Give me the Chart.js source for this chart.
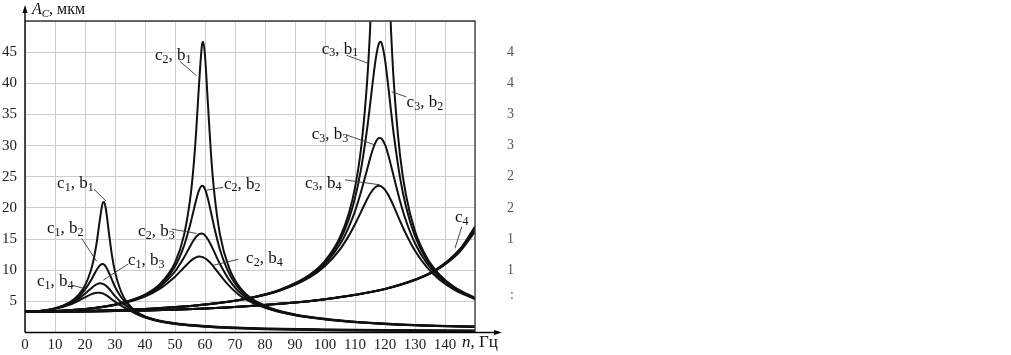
<!DOCTYPE html>
<html>
<head>
<meta charset="utf-8">
<script src="https://cdn.jsdelivr.net/npm/chart.js@4.4.1/dist/chart.umd.min.js"></script>
<style>
    html, body { margin: 0; padding: 0; background: #fff; }
    #wrap { width: 1011px; height: 355px; }
</style>
</head>
<body>
<div id="wrap"><canvas id="resonanceChart" width="1011" height="355"></canvas></div>
<script>
// frequency grids (Hz) for each stiffness family
const freqC1 = [0, 5, 10, 15, 18, 20, 22, 23, 24, 25, 26, 26.4, 27, 28, 29, 30, 32, 34, 37, 40, 45, 50, 60, 70, 80, 100, 120, 150];
const freqC2 = [0, 10, 20, 30, 40, 45, 50, 53, 55, 56, 57, 58, 59, 59.4, 60, 61, 62, 63, 65, 68, 72, 80, 90, 100, 112, 125, 137, 150];
const freqC3 = [0, 20, 40, 60, 75, 85, 95, 100, 105, 108, 110, 112, 114, 115, 116, 117, 118, 118.6, 119, 120, 121, 122, 123, 125, 127, 130, 134, 138, 143, 150];
const freqC4 = [0, 20, 40, 60, 75, 90, 100, 110, 120, 130, 137, 145, 150];

// amplitude A_C (mkm)
const c1b1 = [3.34, 3.46, 3.89, 4.89, 6.12, 7.54, 10.02, 12.0, 14.76, 18.25, 20.87, 20.93, 19.7, 15.88, 12.33, 9.73, 6.58, 4.84, 3.37, 2.6, 1.9, 1.5, 1.05, 0.8, 0.65, 0.5, 0.4, 0.32];
const c1b2 = [3.34, 3.46, 3.86, 4.78, 5.81, 6.88, 8.38, 9.27, 10.15, 10.81, 10.98, 10.86, 10.51, 9.57, 8.44, 7.34, 5.7, 4.6, 3.35, 2.55, 1.85, 1.45, 1.0, 0.76, 0.6, 0.45, 0.35, 0.27];
const c1b3 = [3.34, 3.45, 3.83, 4.64, 5.47, 6.21, 7.06, 7.46, 7.76, 7.9, 7.81, 7.7, 7.5, 7.02, 6.44, 5.84, 4.9, 4.2, 3.2, 2.5, 1.8, 1.4, 0.96, 0.72, 0.56, 0.41, 0.31, 0.23];
const c1b4 = [3.34, 3.45, 3.79, 4.49, 5.14, 5.65, 6.13, 6.3, 6.39, 6.38, 6.25, 6.17, 6.0, 5.68, 5.3, 4.95, 4.3, 3.8, 3.0, 2.4, 1.75, 1.35, 0.92, 0.68, 0.52, 0.37, 0.27, 0.19];

const c2b1 = [3.34, 3.44, 3.77, 4.48, 6.09, 7.78, 11.22, 15.63, 21.23, 25.67, 31.87, 39.75, 46.15, 46.65, 44.46, 36.47, 28.64, 22.85, 15.72, 10.4, 7.0, 4.3, 2.9, 2.2, 1.65, 1.3, 1.1, 0.95];
const c2b2 = [3.34, 3.44, 3.76, 4.46, 6.02, 7.6, 10.6, 13.91, 17.21, 19.17, 21.17, 22.8, 23.54, 23.49, 23.02, 21.42, 19.27, 17.06, 13.29, 9.53, 6.68, 4.2, 2.85, 2.17, 1.63, 1.28, 1.08, 0.93];
const c2b3 = [3.34, 3.44, 3.76, 4.44, 5.92, 7.34, 9.79, 12.03, 13.8, 14.64, 15.35, 15.8, 15.89, 15.82, 15.59, 14.93, 14.04, 13.02, 10.99, 8.49, 6.25, 4.1, 2.8, 2.14, 1.61, 1.26, 1.06, 0.92];
const c2b4 = [3.34, 3.43, 3.75, 4.41, 5.78, 7.04, 8.96, 10.43, 11.39, 11.78, 12.06, 12.19, 12.14, 12.06, 11.92, 11.55, 11.05, 10.47, 9.24, 7.53, 5.79, 3.95, 2.75, 2.1, 1.59, 1.24, 1.05, 0.9];

const c3b1 = [3.34, 3.44, 3.77, 4.49, 5.56, 6.86, 9.29, 11.49, 15.29, 19.21, 23.26, 29.48, 40.03, 48.38, 60.11, 75.62, 90.71, 93.8, 91.86, 77.46, 61.06, 48.57, 39.7, 28.52, 22.03, 16.28, 11.95, 9.38, 7.33, 5.56];
const c3b2 = [3.34, 3.44, 3.77, 4.48, 5.55, 6.83, 9.2, 11.31, 14.82, 18.27, 21.58, 26.18, 32.55, 36.45, 40.56, 44.21, 46.42, 46.65, 46.28, 43.81, 39.89, 35.58, 31.51, 24.89, 20.18, 15.45, 11.59, 9.19, 7.23, 5.51];
const c3b3 = [3.34, 3.44, 3.77, 4.48, 5.53, 6.78, 9.06, 11.03, 14.15, 16.99, 19.48, 22.56, 26.1, 27.88, 29.49, 30.67, 31.23, 31.2, 31.04, 30.14, 28.65, 26.82, 24.87, 21.11, 17.94, 14.32, 11.07, 8.9, 7.08, 5.43];
const c3b4 = [3.34, 3.44, 3.76, 4.47, 5.5, 6.72, 8.88, 10.67, 13.35, 15.59, 17.38, 19.36, 21.35, 22.22, 22.92, 23.39, 23.55, 23.5, 23.37, 22.91, 22.16, 21.22, 20.16, 17.92, 15.8, 13.11, 10.44, 8.55, 6.89, 5.34];

const c4b1 = [3.34, 3.39, 3.55, 3.85, 4.25, 4.8, 5.35, 6.05, 7.0, 8.5, 10.1, 13.4, 17.0];
const c4b2 = [3.34, 3.39, 3.55, 3.85, 4.25, 4.8, 5.35, 6.05, 7.0, 8.48, 10.05, 13.3, 16.8];
const c4b3 = [3.34, 3.39, 3.55, 3.85, 4.25, 4.8, 5.35, 6.04, 6.98, 8.45, 10.0, 13.2, 16.5];
const c4b4 = [3.34, 3.39, 3.55, 3.85, 4.25, 4.8, 5.34, 6.03, 6.96, 8.42, 9.95, 13.0, 16.2];

// curve labels: family index, damping index, text anchor (Hz, mkm), leader line (Hz, mkm -> Hz, mkm)
const noteFamily  = ['1', '1', '1', '1', '2', '2', '2', '2', '3', '3', '3', '3', '4'];
const noteDamping = ['1', '2', '3', '4', '1', '2', '3', '4', '1', '2', '3', '4', ''];
const noteAt = [
    [10.7, 23.9], [7.3, 16.7], [34.3, 11.5], [4.0, 8.15],
    [43.3, 44.4], [66.3, 23.8], [37.7, 16.2], [73.7, 11.9],
    [98.9, 45.5], [127.2, 36.9], [95.6, 31.7], [93.3, 23.95],
    [143.3, 18.4]
];
const noteLeader = [
    [23, 23.0, 27, 21.1], [18.9, 15.1, 23.9, 11.4], [34.4, 11.0, 26.1, 8.4], [15.6, 7.6, 19.4, 7.1],
    [51.7, 43.5, 57.2, 41.2], [66.1, 23.3, 60, 22.8], [48.9, 16.6, 57.2, 15.9], [71.1, 11.75, 62.8, 10.8],
    [107.2, 44.5, 114.4, 43.2], [127.2, 37.8, 122.2, 38.65], [107.2, 31.7, 116.7, 30.1], [106.7, 24.5, 118.3, 23.7],
    [145.6, 17.0, 143.3, 13.5]
];

// cropped tick digits of the neighbouring figure
const ghostDigits = ['4', '4', '3', '3', '2', '2', '1', '1'];
const ghostValues = [45, 40, 35, 30, 25, 20, 15, 10];

const curves = [
    [freqC1, c1b1], [freqC1, c1b2], [freqC1, c1b3], [freqC1, c1b4],
    [freqC2, c2b1], [freqC2, c2b2], [freqC2, c2b3], [freqC2, c2b4],
    [freqC3, c3b1], [freqC3, c3b2], [freqC3, c3b3], [freqC3, c3b4],
    [freqC4, c4b1], [freqC4, c4b2], [freqC4, c4b3], [freqC4, c4b4]
];

const SERIF = '"Liberation Serif", "DejaVu Serif", serif';

function drawRich(ctx, parts, x, y, size) {
    parts.forEach(part => {
        const px = part.sub ? Math.round(size * 0.7) : size;
        ctx.font = `${part.italic ? 'italic ' : ''}${px}px ${SERIF}`;
        ctx.fillText(part.t, x, y + (part.sub ? 4 : 0));
        x += ctx.measureText(part.t).width;
    });
}

const decorations = {
    id: "decorations",
    afterDatasetsDraw(chart) {
        const { ctx, chartArea: area, scales: { x, y } } = chart;
        ctx.save();

        // frame top and right
        ctx.strokeStyle = "#3a3a3a";
        ctx.lineWidth = 1.3;
        ctx.beginPath();
        ctx.moveTo(area.left, area.top);
        ctx.lineTo(area.right, area.top);
        ctx.lineTo(area.right, area.bottom);
        ctx.stroke();

        // axes with arrows
        ctx.strokeStyle = "#000";
        ctx.lineWidth = 1.4;
        ctx.beginPath();
        ctx.moveTo(area.left, area.bottom);
        ctx.lineTo(area.left, 10);
        ctx.moveTo(area.left, area.bottom);
        ctx.lineTo(496, area.bottom);
        ctx.stroke();
        ctx.fillStyle = "#000";
        ctx.beginPath();
        ctx.moveTo(area.left, 5);
        ctx.lineTo(area.left - 2.5, 13);
        ctx.lineTo(area.left + 2.5, 13);
        ctx.fill();
        ctx.beginPath();
        ctx.moveTo(502, area.bottom);
        ctx.lineTo(494, area.bottom - 2.5);
        ctx.lineTo(494, area.bottom + 2.5);
        ctx.fill();

        // axis titles
        ctx.fillStyle = "#111";
        ctx.textBaseline = "middle";
        ctx.textAlign = "left";
        drawRich(ctx, [{ t: "A", italic: true }, { t: "C", italic: true, sub: true }, { t: ", мкм" }], area.left + 7, 10, 16);
        drawRich(ctx, [{ t: "n", italic: true }, { t: ", Гц" }], 462, 343, 17);

        // curve labels
        noteAt.forEach((pos, i) => {
            const parts = [{ t: "c" }, { t: noteFamily[i], sub: true }];
            if (noteDamping[i]) {
                parts.push({ t: ", b" }, { t: noteDamping[i], sub: true });
            }
            ctx.fillStyle = "#111";
            drawRich(ctx, parts, x.getPixelForValue(pos[0]), y.getPixelForValue(pos[1]), 17);

            const l = noteLeader[i];
            ctx.strokeStyle = "#333";
            ctx.lineWidth = 0.9;
            ctx.beginPath();
            ctx.moveTo(x.getPixelForValue(l[0]), y.getPixelForValue(l[1]));
            ctx.lineTo(x.getPixelForValue(l[2]), y.getPixelForValue(l[3]));
            ctx.stroke();
        });

        // cropped neighbour figure remnants
        ctx.fillStyle = "#555";
        ctx.font = `14px ${SERIF}`;
        ghostDigits.forEach((d, i) => {
            ctx.fillText(d, 507, y.getPixelForValue(ghostValues[i]));
        });
        ctx.fillText(":", 510, y.getPixelForValue(5) - 6);

        ctx.restore();
    }
};

new Chart(document.getElementById("resonanceChart"), {
    type: "line",
    data: {
        datasets: curves.map(([xs, ys]) => ({
            data: xs.map((v, i) => ({ x: v, y: ys[i] })),
            borderColor: "#111",
            borderWidth: 2,
            pointRadius: 0,
            fill: false,
            cubicInterpolationMode: "monotone"
        }))
    },
    options: {
        responsive: false,
        animation: false,
        events: [],
        layout: {
            padding: { top: 21, right: 536, left: 0, bottom: 0 }
        },
        plugins: {
            legend: { display: false },
            tooltip: { enabled: false }
        },
        scales: {
            x: {
                type: "linear",
                min: 0,
                max: 150,
                afterFit: scale => { scale.height = 22.5; },
                border: { display: false },
                grid: { color: "#cdcdcd", lineWidth: 1, drawTicks: false },
                ticks: {
                    stepSize: 10,
                    padding: 4,
                    maxRotation: 0,
                    autoSkip: false,
                    color: "#222",
                    font: { family: SERIF, size: 15 },
                    callback: v => v === 150 ? "" : v
                }
            },
            y: {
                min: 0,
                max: 50,
                afterFit: scale => { scale.width = 25; },
                border: { display: false },
                grid: { color: "#cdcdcd", lineWidth: 1, drawTicks: false },
                ticks: {
                    stepSize: 5,
                    padding: 8,
                    color: "#222",
                    font: { family: SERIF, size: 15 },
                    callback: v => (v === 0 || v === 50) ? "" : v
                }
            }
        }
    },
    plugins: [decorations]
});
</script>
</body>
</html>
